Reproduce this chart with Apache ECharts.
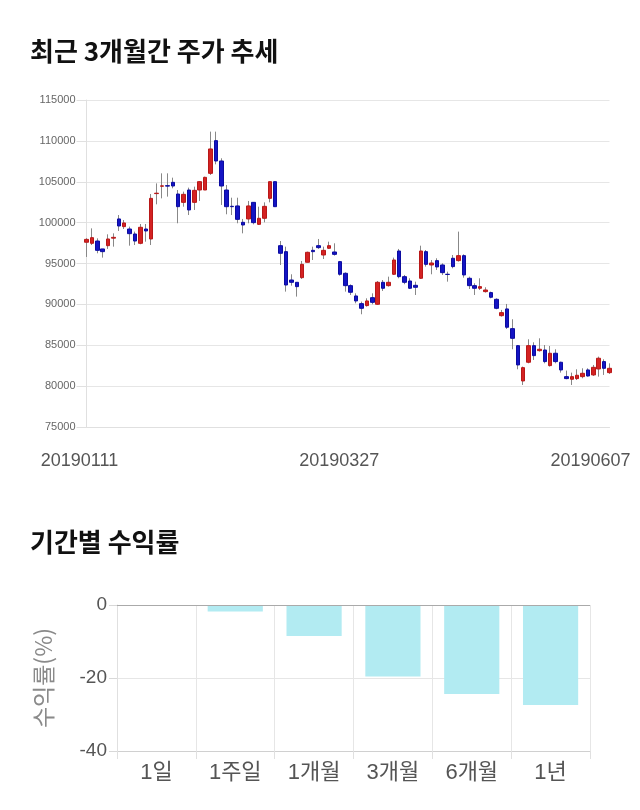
<!DOCTYPE html>
<html>
<head>
<meta charset="utf-8">
<script src="https://cdn.jsdelivr.net/npm/echarts@6/dist/echarts.min.js"></script>
<style>
  html, body { margin: 0; padding: 0; background: #fff; }
  #chart { width: 640px; height: 810px; }
</style>
</head>
<body>
<div id="chart"></div>
<script>
// ---- data ----
const dates = [
  '20190111','20190114','20190115','20190116','20190117','20190118','20190121','20190122','20190123','20190124',
  '20190125','20190128','20190129','20190130','20190131','20190207','20190208','20190211','20190212','20190213',
  '20190214','20190215','20190218','20190219','20190220','20190221','20190222','20190225','20190226','20190227',
  '20190228','20190304','20190305','20190306','20190307','20190308','20190311','20190312','20190313','20190314',
  '20190315','20190318','20190319','20190320','20190321','20190322','20190325','20190326','20190327','20190328',
  '20190329','20190401','20190402','20190403','20190404','20190405','20190408','20190409','20190410','20190411',
  '20190412','20190415','20190416','20190417','20190418','20190419','20190422','20190423','20190424','20190425',
  '20190426','20190429','20190430','20190502','20190503','20190507','20190508','20190509','20190510','20190513',
  '20190514','20190515','20190516','20190517','20190520','20190521','20190522','20190523','20190524','20190527',
  '20190528','20190529','20190530','20190531','20190603','20190604','20190605','20190607'
];
const openPrices = [
  97600,97470,97750,96780,97180,98100,100450,99510,99220,98610,
  97470,99220,98000,103550,104450,104520,104930,103500,102480,103990,
  102480,103990,103990,106030,110030,107540,103990,102000,102040,100040,
  100450,102480,99790,100530,102970,105010,97180,96450,92980,92700,
  93270,95150,96610,97180,96040,96860,96410,95230,93800,92290,
  91030,90090,89850,90820,90010,92700,92290,93680,96530,93390,
  92860,92330,93190,96450,94820,95350,94820,93680,95640,95350,
  95960,93190,92290,91970,91560,91440,90620,88620,89440,87030,
  84950,80630,82920,84950,84340,84420,82510,84020,82920,81160,
  80840,80920,81160,81980,81370,82100,83000,81650
];
const closePrices = [
  97950,98160,96610,96450,98000,98200,99590,99960,98650,97750,
  99430,98980,102970,103600,104500,104470,104480,101950,103460,101550,
  103950,105010,105540,109010,107540,104480,101950,101950,100400,99710,
  102040,100000,100530,101990,105010,101950,96250,92370,92700,92170,
  94900,96370,96450,96940,96610,97180,96120,93680,92290,91480,
  90420,89520,90420,90250,92700,91970,92700,95430,93390,92700,
  91970,92090,96530,94900,95060,94580,93880,93660,94620,95960,
  93600,92290,91970,92170,91760,90870,89520,88990,87200,85850,
  82590,82260,84950,83730,84510,83000,84020,83000,81980,80920,
  81160,81330,81570,81240,82300,83410,82180,82180
];
const lowPrices = [
  95800,97260,96250,95720,96780,97060,98980,99220,97180,97260,
  97350,97670,97260,102240,102970,103180,104200,99920,101950,100930,
  101550,102650,103990,105830,107130,102160,101020,100930,99920,98690,
  99920,99790,99710,100040,102480,101950,94820,91560,92290,90950,
  93110,95150,95430,96780,95550,96780,95960,93510,91560,91150,
  90130,88790,89720,90010,89930,91640,92170,93600,93190,92460,
  91880,91150,93110,94620,93680,94210,93600,92780,94410,95230,
  93270,91880,91150,91760,91440,90740,89400,88500,86990,84510,
  82060,80140,82790,83200,84220,82790,82390,82790,81650,80840,
  80140,80750,80960,81160,81240,81160,81370,81490
];
const highPrices = [
  98100,99300,98080,96780,98570,98690,100930,100320,99510,98900,
  99830,99830,103500,104800,106030,106030,105500,103990,103790,104280,
  104400,105090,105620,111130,111130,107870,104600,103050,103050,100450,
  102650,102480,101950,102480,105010,105010,97750,97060,93680,92700,
  95310,96450,97060,98000,97060,97670,97470,95310,93920,92450,
  91350,90340,90740,91350,92860,92980,93390,95720,96780,93600,
  93190,92780,97180,96650,95430,95640,95020,94000,96040,98900,
  96120,93390,92580,93190,92090,91560,90740,89320,90050,88180,
  85030,82390,85730,85360,85850,85030,84910,84510,82990,81900,
  81650,82060,82180,82180,82590,83610,83280,82790
];
const tickLabels = ['20190111', '20190327', '20190607'];

const periods = ['1일', '1주일', '1개월', '3개월', '6개월', '1년'];
const returns = [0, -1.8, -8.5, -19.6, -24.4, -27.4];

// ---- build ----
const wickData = dates.map((d, i) => [openPrices[i], closePrices[i], lowPrices[i], highPrices[i]]);
const bodyData = dates.map((d, i) => [
  openPrices[i], closePrices[i],
  Math.min(openPrices[i], closePrices[i]), Math.max(openPrices[i], closePrices[i])
]);

const numFont = "'Liberation Sans', Arial, 'Noto Sans CJK KR', sans-serif";
const krFont = "'Liberation Sans', 'Noto Sans CJK KR', sans-serif";

const chart = echarts.init(document.getElementById('chart'), null, { renderer: 'canvas' });
chart.setOption({
  animation: false,
  backgroundColor: '#ffffff',
  title: [
    { text: '최근 3개월간 주가 추세', left: 25, top: 33,
      textStyle: { fontFamily: "'Noto Sans CJK KR', sans-serif", fontSize: 26, fontWeight: 'bold', color: '#111' } },
    { text: '기간별 수익률', left: 25, top: 524,
      textStyle: { fontFamily: "'Noto Sans CJK KR', sans-serif", fontSize: 26, fontWeight: 'bold', color: '#111' } }
  ],
  grid: [
    { left: 86.5, right: 30.5, top: 100, height: 327 },
    { left: 117, right: 50, top: 605, height: 146 }
  ],
  xAxis: [
    {
      type: 'category', gridIndex: 0, data: dates, boundaryGap: false,
      axisLine: { show: true, lineStyle: { color: '#e0e0e0' } },
      axisTick: { show: false },
      splitLine: { show: false },
      axisLabel: {
        interval: (idx, val) => tickLabels.indexOf(val) >= 0,
        fontFamily: numFont, fontSize: 18, color: '#555', margin: 25,
        formatter: (val) => {
          const k = tickLabels.indexOf(val);
          return '{l' + k + '|' + val + '}';
        },
        rich: {
          l0: { fontFamily: numFont, fontSize: 18, color: '#555', padding: [0, 14, 0, 0] },
          l1: { fontFamily: numFont, fontSize: 18, color: '#555', padding: [0, 12, 0, 0] },
          l2: { fontFamily: numFont, fontSize: 18, color: '#555', padding: [0, 38, 0, 0] }
        }
      }
    },
    {
      type: 'category', gridIndex: 1, data: periods, boundaryGap: true,
      axisLine: { show: true, onZero: false, lineStyle: { color: '#d0d0d0' } },
      axisTick: { show: true, length: 8, lineStyle: { color: '#e0e0e0' } },
      splitLine: { show: true, lineStyle: { color: '#e6e6e6' } },
      axisLabel: { fontFamily: krFont, fontSize: 22, color: '#555', margin: 11 }
    }
  ],
  yAxis: [
    {
      type: 'value', gridIndex: 0, min: 75000, max: 115000, interval: 5000,
      axisLine: { show: true, lineStyle: { color: '#e0e0e0' } },
      axisTick: { show: true, length: 10, lineStyle: { color: '#e0e0e0' } },
      splitLine: { show: true, lineStyle: { color: '#e6e6e6' } },
      axisLabel: { fontFamily: numFont, fontSize: 11, color: '#666', margin: 11,
        formatter: (v) => String(v) }
    },
    {
      type: 'value', gridIndex: 1, min: -40, max: 0, interval: 20,
      name: '수익률(%)', nameLocation: 'middle', nameGap: 62,
      nameTextStyle: { fontFamily: "'Noto Sans CJK KR', sans-serif", fontSize: 23, color: '#8a8a8a' },
      axisLine: { show: true, lineStyle: { color: '#e0e0e0' } },
      axisTick: { show: true, length: 8, lineStyle: { color: '#d8d8d8' } },
      splitLine: { show: true, lineStyle: { color: '#e6e6e6' } },
      axisLabel: { fontFamily: numFont, fontSize: 19, color: '#555', margin: 10 }
    }
  ],
  series: [
    {
      type: 'candlestick', xAxisIndex: 0, yAxisIndex: 0, data: wickData, barWidth: 1,
      itemStyle: { color: '#888', color0: '#888', borderColor: '#888', borderColor0: '#888', borderWidth: 1 }
    },
    {
      type: 'candlestick', xAxisIndex: 0, yAxisIndex: 0, data: bodyData, barWidth: 4,
      itemStyle: { color: '#d42222', color0: '#1414c4', borderColor: '#b81818', borderColor0: '#0c0ca0', borderWidth: 1 }
    },
    {
      type: 'bar', xAxisIndex: 1, yAxisIndex: 1, data: returns, barWidth: '70%',
      itemStyle: { color: '#b2ebf2', borderWidth: 0 },
      markLine: {
        silent: true, symbol: ['none', 'none'], label: { show: false },
        lineStyle: { color: '#aaaaaa', type: 'solid', width: 1 },
        data: [{ yAxis: 0 }]
      }
    }
  ]
});
</script>
</body>
</html>
